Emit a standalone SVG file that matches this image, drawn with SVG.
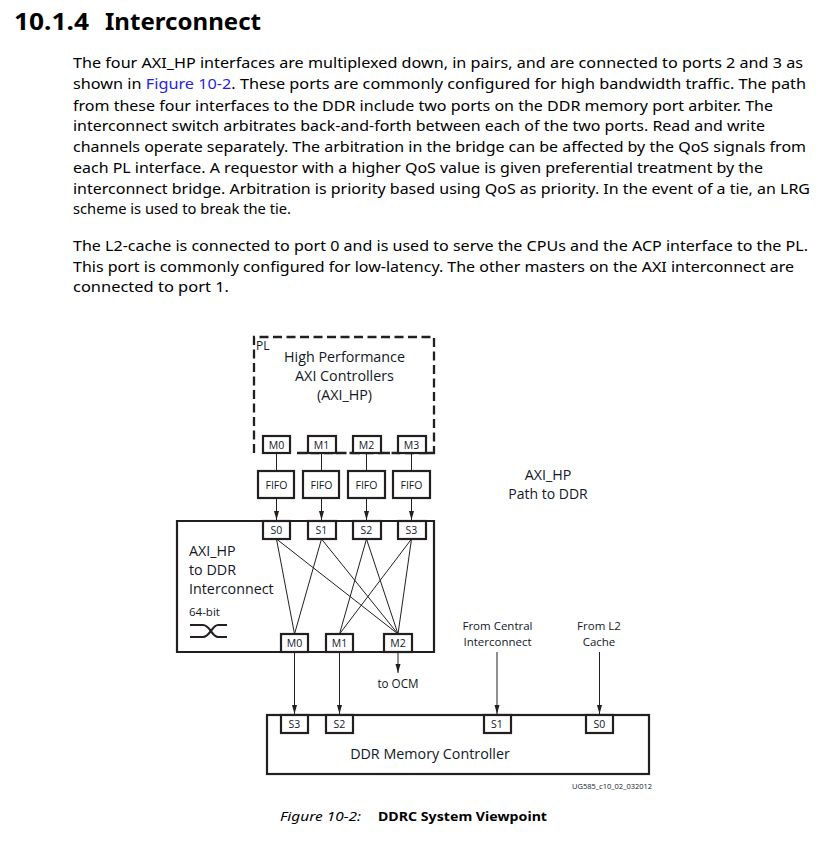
<svg xmlns="http://www.w3.org/2000/svg" width="834" height="864" viewBox="0 0 834 864">
<style>
.b{font-family:"Noto Sans","Open Sans",sans-serif;font-size:14.5px;fill:#000}
.d{font-family:"Open Sans","Noto Sans",sans-serif;fill:#111827}
.p{font-size:10.5px;text-anchor:middle}
.c{text-anchor:middle}
.box{fill:#fff;stroke:#231f20;stroke-width:2.2}
.thin{fill:none;stroke:#231f20;stroke-width:1}
</style>
<defs>
<marker id="arrow" markerUnits="userSpaceOnUse" markerWidth="10" markerHeight="6" refX="9" refY="2.5" orient="auto"><path d="M0 0L9 2.5L0 5Z" fill="#231f20"/></marker></defs>
<rect width="834" height="864" fill="#fff"/>
<g id="heading" font-family="Noto Sans,Open Sans,sans-serif" font-weight="700" font-size="24px">
<text x="14" y="30" textLength="75" lengthAdjust="spacingAndGlyphs">10.1.4</text>
<text x="105" y="30" textLength="156" lengthAdjust="spacingAndGlyphs">Interconnect</text>
</g>
<g id="body">
<text class="b" x="73" y="68" textLength="730" lengthAdjust="spacingAndGlyphs">The four AXI_HP interfaces are multiplexed down, in pairs, and are connected to ports 2 and 3 as</text>
<text class="b" x="73" y="89" textLength="733" lengthAdjust="spacingAndGlyphs">shown in <tspan fill="#2a1fe0">Figure 10-2</tspan>. These ports are commonly configured for high bandwidth traffic. The path</text>
<text class="b" x="73" y="110.5" textLength="700" lengthAdjust="spacingAndGlyphs">from these four interfaces to the DDR include two ports on the DDR memory port arbiter. The</text>
<text class="b" x="73" y="131" textLength="692" lengthAdjust="spacingAndGlyphs">interconnect switch arbitrates back-and-forth between each of the two ports. Read and write</text>
<text class="b" x="73" y="152" textLength="733" lengthAdjust="spacingAndGlyphs">channels operate separately. The arbitration in the bridge can be affected by the QoS signals from</text>
<text class="b" x="73" y="173" textLength="690" lengthAdjust="spacingAndGlyphs">each PL interface. A requestor with a higher QoS value is given preferential treatment by the</text>
<text class="b" x="73" y="194" textLength="737" lengthAdjust="spacingAndGlyphs">interconnect bridge. Arbitration is priority based using QoS as priority. In the event of a tie, an LRG</text>
<text class="b" x="73" y="214" textLength="218" lengthAdjust="spacingAndGlyphs">scheme is used to break the tie.</text>
<text class="b" x="73" y="251" textLength="735" lengthAdjust="spacingAndGlyphs">The L2-cache is connected to port 0 and is used to serve the CPUs and the ACP interface to the PL.</text>
<text class="b" x="73" y="272" textLength="721" lengthAdjust="spacingAndGlyphs">This port is commonly configured for low-latency. The other masters on the AXI interconnect are</text>
<text class="b" x="73" y="292" textLength="156" lengthAdjust="spacingAndGlyphs">connected to port 1.</text>
</g>
<g id="connectors">
<g class="thin">
<path d="M276.5 453V471M321.5 453V471M366.5 453V471M411.5 453V471"/>
<path d="M276.5 498V520" marker-end="url(#arrow)"/><path d="M321.5 498V520" marker-end="url(#arrow)"/><path d="M366.5 498V520" marker-end="url(#arrow)"/><path d="M411.5 498V520" marker-end="url(#arrow)"/>
<path d="M276.5 539L294.5 634M321.5 539L294.5 634M366.5 539L339.5 634M411.5 539L339.5 634M276.5 539L398 634M321.5 539L398 634M366.5 539L398 634M411.5 539L398 634"/>
<path d="M398 652V673" marker-end="url(#arrow)"/>
<path d="M294.5 652V714" marker-end="url(#arrow)"/><path d="M339.5 652V714" marker-end="url(#arrow)"/>
<path d="M497 652V714" marker-end="url(#arrow)"/><path d="M599.5 652V714" marker-end="url(#arrow)"/>
</g>
</g>
<g id="pl">
<path d="M254 453V337H434V453H296M298 453H308M336 453H353M381 453H398M426 453H434" fill="none" stroke="#231f20" stroke-width="2.3" stroke-dasharray="9 4.5"/>
<text class="d" x="256" y="350" font-size="12px">PL</text>
<text class="d c" x="344.5" y="362" font-size="14.3px">High Performance</text>
<text class="d c" x="344.5" y="381" font-size="14.3px">AXI Controllers</text>
<text class="d c" x="344.5" y="400" font-size="14.3px">(AXI_HP)</text>
</g>
<g id="pl-m0"><rect class="box" x="263" y="436" width="27" height="17"/><text class="d p" x="276.5" y="448.5">M0</text></g>
<g id="pl-m1"><rect class="box" x="308" y="436" width="28" height="17"/><text class="d p" x="321.5" y="448.5">M1</text></g>
<g id="pl-m2"><rect class="box" x="353" y="436" width="28" height="17"/><text class="d p" x="366.5" y="448.5">M2</text></g>
<g id="pl-m3"><rect class="box" x="398" y="436" width="28" height="17"/><text class="d p" x="411.5" y="448.5">M3</text></g>
<g id="fifo0"><rect class="box" x="258" y="471" width="36" height="27"/><text class="d p" x="276.5" y="489">FIFO</text></g>
<g id="fifo1"><rect class="box" x="303" y="471" width="36" height="27"/><text class="d p" x="321.5" y="489">FIFO</text></g>
<g id="fifo2"><rect class="box" x="348" y="471" width="37" height="27"/><text class="d p" x="366.5" y="489">FIFO</text></g>
<g id="fifo3"><rect class="box" x="393" y="471" width="37" height="27"/><text class="d p" x="411.5" y="489">FIFO</text></g>
<g id="path-label">
<text class="d c" x="548" y="480" font-size="14.3px">AXI_HP</text>
<text class="d c" x="548" y="499" font-size="14px">Path to DDR</text>
</g>
<g id="interconnect">
<path d="M177 521H434V652H177Z" fill="none" stroke="#231f20" stroke-width="2.2"/>
<text class="d" x="189" y="556" font-size="14.3px">AXI_HP</text>
<text class="d" x="189" y="575" font-size="14.3px">to DDR</text>
<text class="d" x="189" y="594" font-size="14.3px">Interconnect</text>
<text class="d" x="189" y="616" font-size="11.5px">64-bit</text>
<path d="M190 625H203C210 625 212 637 218 637H227M190 637H203C210 637 212 625 218 625H227" fill="none" stroke="#231f20" stroke-width="2.2"/>
</g>
<g id="s0"><rect class="box" x="263" y="521" width="27" height="18"/><text class="d p" x="276.5" y="534">S0</text></g>
<g id="s1"><rect class="box" x="308" y="521" width="28" height="18"/><text class="d p" x="321.5" y="534">S1</text></g>
<g id="s2"><rect class="box" x="353" y="521" width="28" height="18"/><text class="d p" x="366.5" y="534">S2</text></g>
<g id="s3"><rect class="box" x="398" y="521" width="28" height="18"/><text class="d p" x="411.5" y="534">S3</text></g>
<g id="m0"><rect class="box" x="281" y="634" width="27" height="18"/><text class="d p" x="294.5" y="647">M0</text></g>
<g id="m1"><rect class="box" x="326" y="634" width="27" height="18"/><text class="d p" x="339.5" y="647">M1</text></g>
<g id="m2"><rect class="box" x="384" y="634" width="28" height="18"/><text class="d p" x="398" y="647">M2</text></g>
<g id="labels">
<text class="d c" x="398" y="688" font-size="11.7px">to OCM</text>
<text class="d c" x="497.5" y="630" font-size="11.5px">From Central</text>
<text class="d c" x="497.5" y="646" font-size="11.5px">Interconnect</text>
<text class="d c" x="599" y="630" font-size="11.5px">From L2</text>
<text class="d c" x="599" y="646" font-size="11.5px">Cache</text>
<text class="d" x="572" y="789" font-size="7.5px">UG585_c10_02_032012</text>
</g>
<g id="ddr">
<rect x="267" y="715" width="382" height="59" fill="none" stroke="#231f20" stroke-width="2.2"/>
<text class="d c" x="430" y="759" font-size="14.3px">DDR Memory Controller</text>
</g>
<g id="ddr-s3"><rect class="box" x="281" y="715" width="27" height="18"/><text class="d p" x="294.5" y="728">S3</text></g>
<g id="ddr-s2"><rect class="box" x="326" y="715" width="27" height="18"/><text class="d p" x="339.5" y="728">S2</text></g>
<g id="ddr-s1"><rect class="box" x="484" y="715" width="27" height="18"/><text class="d p" x="497" y="728">S1</text></g>
<g id="ddr-s0"><rect class="box" x="586" y="715" width="27" height="18"/><text class="d p" x="599.5" y="728">S0</text></g>
<g id="caption">
<text x="280" y="821" font-family="Noto Sans,Open Sans,sans-serif" font-style="italic" font-size="13px" textLength="81" lengthAdjust="spacingAndGlyphs">Figure 10-2:</text>
<text x="378" y="821" font-family="Noto Sans,Open Sans,sans-serif" font-weight="700" font-size="13px" textLength="169" lengthAdjust="spacingAndGlyphs">DDRC System Viewpoint</text>
</g>
</svg>
